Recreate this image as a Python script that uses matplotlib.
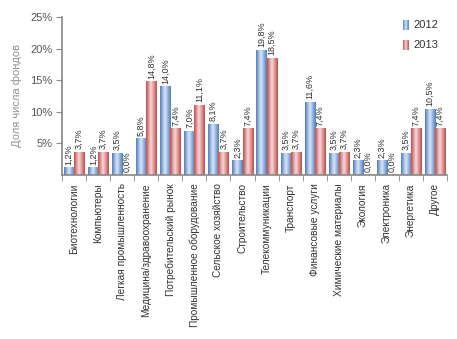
import matplotlib.pyplot as plt
import numpy as np
from matplotlib.colors import LinearSegmentedColormap
from matplotlib.patches import Rectangle

plt.rcParams["font.family"] = ["Liberation Sans", "DejaVu Sans"]

categories = [
    "Биотехнологии", "Компьютеры", "Легкая промышленность",
    "Медицина/здравоохранение", "Потребительский рынок",
    "Промышленное оборудование", "Сельское хозяйство", "Строительство",
    "Телекоммуникации", "Транспорт", "Финансовые услуги",
    "Химические материалы", "Экология", "Электроника", "Энергетика", "Другое",
]
share_2012 = [1.2, 1.2, 3.5, 5.8, 14.0, 7.0, 8.1, 2.3, 19.8, 3.5, 11.6, 3.5, 2.3, 2.3, 3.5, 10.5]
share_2013 = [3.7, 3.7, 0.0, 14.8, 7.4, 11.1, 3.7, 7.4, 18.5, 3.7, 7.4, 3.7, 0.0, 0.0, 7.4, 7.4]
years = ["2012", "2013"]

blue_cmap = LinearSegmentedColormap.from_list(
    "b", [(0, "#4a7cc0"), (0.45, "#dce8f7"), (1, "#4a7cc0")])
red_cmap = LinearSegmentedColormap.from_list(
    "r", [(0, "#c24b48"), (0.45, "#f6dcdb"), (1, "#c24b48")])
grad = np.linspace(0, 1, 64).reshape(1, -1)

fig = plt.figure(figsize=(4.57, 3.39), dpi=100)
ax = fig.add_axes([0.136, 0.484, 0.842, 0.466])

x = np.arange(len(categories))
w = 0.42


def gradient_bar(ax, x0, h, cmap):
    if h <= 0:
        return
    im = ax.imshow(grad, cmap=cmap, extent=(x0, x0 + w, 0, h),
                   aspect="auto", zorder=2, interpolation="bicubic")
    clip = Rectangle((x0, 0), w, h, transform=ax.transData)
    im.set_clip_path(clip)


for i in range(len(categories)):
    gradient_bar(ax, x[i] - w, share_2012[i], blue_cmap)
    gradient_bar(ax, x[i], share_2013[i], red_cmap)

label_color = "#333333"
for i in range(len(categories)):
    for val, off in ((share_2012[i], -w / 2), (share_2013[i], w / 2)):
        txt = f"{val:.1f}%".replace(".", ",")
        ax.text(x[i] + off, val + 0.4, txt, rotation=90, ha="center",
                va="bottom", fontsize=6.5, color=label_color)

ax.set_xlim(-0.5, len(categories) - 0.5)
ax.set_ylim(0, 25)
ax.set_yticks([5, 10, 15, 20, 25])
ax.set_yticklabels(["5%", "10%", "15%", "20%", "25%"], fontsize=8, color="#555555")
ax.set_xticks(x)
ax.set_xticklabels(categories, rotation=90, fontsize=7.3, color="#333333")
ax.tick_params(axis="x", length=0, pad=6)
ax.set_xticks(np.arange(-0.5, len(categories)), minor=True)
ax.tick_params(axis="x", which="minor", length=4, color="#888888")
ax.tick_params(axis="y", length=4, color="#888888", pad=3)
for s in ("top", "right"):
    ax.spines[s].set_visible(False)
for s in ("left", "bottom"):
    ax.spines[s].set_color("#888888")
    ax.spines[s].set_linewidth(1.2)

ax.set_ylabel("Доля числа фондов", fontsize=8, color="#909090")
ax.yaxis.set_label_coords(-0.105, 0.5)

# legend
for k, (yr, cmap) in enumerate(zip(years, (blue_cmap, red_cmap))):
    yc = 0.926 - k * 0.059
    lax = fig.add_axes([0.882, yc - 0.014, 0.012, 0.028])
    lax.imshow(grad, cmap=cmap, aspect="auto", interpolation="bicubic")
    lax.axis("off")
    fig.text(0.905, yc, yr, fontsize=8, color="#333333", va="center")

fig.savefig("out.png", dpi=100)
